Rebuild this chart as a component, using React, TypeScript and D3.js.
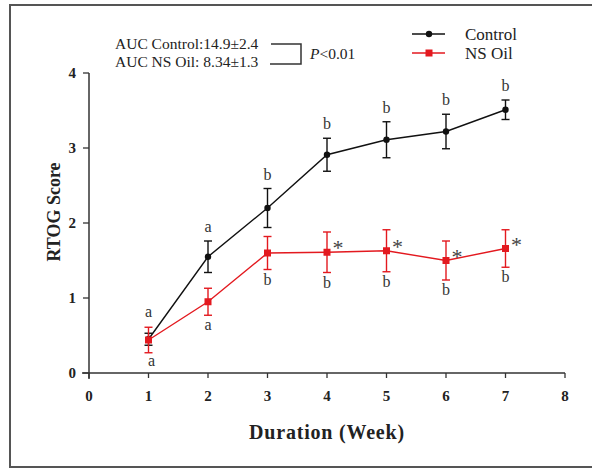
import React, { useEffect, useRef } from "react";
import * as d3 from "d3";

const weeks = [1, 2, 3, 4, 5, 6, 7];
const controlMean = [0.45, 1.55, 2.2, 2.91, 3.11, 3.22, 3.51];
const controlErr = [0.08, 0.21, 0.26, 0.22, 0.24, 0.23, 0.13];
const controlLetters = ["a", "a", "b", "b", "b", "b", "b"];
const oilMean = [0.44, 0.95, 1.6, 1.61, 1.63, 1.5, 1.66];
const oilErr = [0.17, 0.18, 0.22, 0.27, 0.28, 0.26, 0.25];
const oilLetters = ["a", "a", "b", "b", "b", "b", "b"];
const oilStars = [false, false, false, true, true, true, true];
const xTicks = [0, 1, 2, 3, 4, 5, 6, 7, 8];
const yTicks = [0, 1, 2, 3, 4];

const RED = "#e3191f";
const SERIF = "'Liberation Serif', 'Times New Roman', serif";

export default function App() {
  const ref = useRef<SVGSVGElement>(null);

  useEffect(() => {
    const svg = d3.select(ref.current);
    svg.selectAll("*").remove();

    const x = d3.scaleLinear().domain([0, 8]).range([89, 565]);
    const y = d3.scaleLinear().domain([0, 4]).range([373, 73]);

    // frame
    svg.append("path")
      .attr("d", "M10,470 L10,5 L595,5")
      .attr("fill", "none")
      .attr("stroke", "#555")
      .attr("stroke-width", 2);
    svg.append("line")
      .attr("x1", 10).attr("x2", 595).attr("y1", 467).attr("y2", 467)
      .attr("stroke", "#555").attr("stroke-width", 2);

    // axes
    const g = svg.append("g").attr("font-family", SERIF).attr("fill", "#222");
    g.append("line")
      .attr("x1", 82).attr("x2", x(8)).attr("y1", y(0)).attr("y2", y(0))
      .attr("stroke", "#333").attr("stroke-width", 1.5);
    g.append("line")
      .attr("x1", x(0)).attr("x2", x(0)).attr("y1", y(4)).attr("y2", 379)
      .attr("stroke", "#333").attr("stroke-width", 1.5);

    g.selectAll(".xt").data(xTicks).join("line")
      .attr("x1", d => x(d)).attr("x2", d => x(d))
      .attr("y1", y(0)).attr("y2", y(0) + 5)
      .attr("stroke", "#333").attr("stroke-width", 1.3);
    g.selectAll(".xl").data(xTicks).join("text")
      .attr("x", d => x(d)).attr("y", 401)
      .attr("text-anchor", "middle")
      .attr("font-size", 15).attr("font-weight", "bold")
      .text(d => d);

    g.selectAll(".yt").data(yTicks).join("line")
      .attr("x1", x(0) - 6).attr("x2", x(0))
      .attr("y1", d => y(d)).attr("y2", d => y(d))
      .attr("stroke", "#333").attr("stroke-width", 1.3);
    g.selectAll(".yl").data(yTicks).join("text")
      .attr("x", 76).attr("y", d => y(d) + 5)
      .attr("text-anchor", "end")
      .attr("font-size", 15).attr("font-weight", "bold")
      .text(d => d);

    g.append("text")
      .attr("x", 327).attr("y", 439)
      .attr("text-anchor", "middle")
      .attr("font-size", 20).attr("font-weight", "bold")
      .attr("letter-spacing", 0.8)
      .text("Duration (Week)");
    g.append("text")
      .attr("transform", "translate(60,212) rotate(-90)")
      .attr("text-anchor", "middle")
      .attr("font-size", 18).attr("font-weight", "bold")
      .text("RTOG Score");

    const line = d3.line<number>().x((d, i) => x(weeks[i])).y(d => y(d));

    const drawSeries = (mean: number[], err: number[], color: string, square: boolean) => {
      const s = svg.append("g");
      s.append("path")
        .attr("d", line(mean))
        .attr("fill", "none").attr("stroke", color).attr("stroke-width", 1.4);
      const eb = s.selectAll("g.eb").data(mean).join("g");
      eb.append("line")
        .attr("x1", (d, i) => x(weeks[i])).attr("x2", (d, i) => x(weeks[i]))
        .attr("y1", (d, i) => y(d + err[i])).attr("y2", (d, i) => y(d - err[i]))
        .attr("stroke", color).attr("stroke-width", 1.4);
      [1, -1].forEach(sign => {
        eb.append("line")
          .attr("x1", (d, i) => x(weeks[i]) - 4).attr("x2", (d, i) => x(weeks[i]) + 4)
          .attr("y1", (d, i) => y(d + sign * err[i])).attr("y2", (d, i) => y(d + sign * err[i]))
          .attr("stroke", color).attr("stroke-width", 1.4);
      });
      if (square) {
        s.selectAll("rect").data(mean).join("rect")
          .attr("x", (d, i) => x(weeks[i]) - 3.5).attr("y", d => y(d) - 3.5)
          .attr("width", 7).attr("height", 7).attr("fill", color);
      } else {
        s.selectAll("circle").data(mean).join("circle")
          .attr("cx", (d, i) => x(weeks[i])).attr("cy", d => y(d))
          .attr("r", 3.2).attr("fill", color);
      }
    };

    drawSeries(controlMean, controlErr, "#111", false);
    drawSeries(oilMean, oilErr, RED, true);

    // significance letters
    const lt = svg.append("g").attr("font-family", SERIF).attr("font-size", 16).attr("fill", "#333");
    lt.selectAll(".cl").data(controlLetters).join("text")
      .attr("x", (d, i) => x(weeks[i])).attr("text-anchor", "middle")
      .attr("y", (d, i) => i === 0 ? y(oilMean[0] + oilErr[0]) - 10 : y(controlMean[i] + controlErr[i]) - 9)
      .text(d => d);
    lt.selectAll(".ol").data(oilLetters).join("text")
      .attr("x", (d, i) => x(weeks[i]) + (i === 0 ? 3 : 0)).attr("text-anchor", "middle")
      .attr("y", (d, i) => i === 0 ? y(oilMean[0] - controlErr[0]) + 20 : y(oilMean[i] - oilErr[i]) + 15)
      .text(d => d);
    lt.selectAll(".st").data(oilMean.filter((d, i) => oilStars[i]).map((d, i) => i + 3)).join("text")
      .attr("x", i => x(weeks[i]) + 11).attr("y", i => y(oilMean[i]) + 3)
      .attr("text-anchor", "middle").attr("font-size", 22).attr("fill", "#444")
      .text("*");

    // legend
    const lg = svg.append("g").attr("font-family", SERIF).attr("font-size", 17).attr("fill", "#222");
    lg.append("line").attr("x1", 412).attr("x2", 445).attr("y1", 34).attr("y2", 34)
      .attr("stroke", "#111").attr("stroke-width", 1.4);
    lg.append("circle").attr("cx", 429).attr("cy", 34).attr("r", 3.2).attr("fill", "#111");
    lg.append("text").attr("x", 465).attr("y", 40).text("Control");
    lg.append("line").attr("x1", 412).attr("x2", 445).attr("y1", 53).attr("y2", 53)
      .attr("stroke", RED).attr("stroke-width", 1.4);
    lg.append("rect").attr("x", 425.5).attr("y", 49.5).attr("width", 7).attr("height", 7).attr("fill", RED);
    lg.append("text").attr("x", 465).attr("y", 59).text("NS Oil");

    // AUC annotation
    const an = svg.append("g").attr("font-family", SERIF).attr("font-size", 15.5).attr("fill", "#222");
    an.append("text").attr("x", 115).attr("y", 49).text("AUC Control:14.9±2.4");
    an.append("text").attr("x", 115).attr("y", 67).text("AUC NS Oil: 8.34±1.3");
    an.append("path")
      .attr("d", "M271,44 L301,44 L301,64 L270,64")
      .attr("fill", "none").attr("stroke", "#333").attr("stroke-width", 1.5);
    const p = an.append("text").attr("x", 310).attr("y", 59);
    p.append("tspan").attr("font-style", "italic").text("P");
    p.append("tspan").text("<0.01");
  }, []);

  return (
    <svg
      ref={ref}
      width={592}
      height={468}
      style={{ position: "absolute", left: 0, top: 0, background: "#fff" }}
    />
  );
}
